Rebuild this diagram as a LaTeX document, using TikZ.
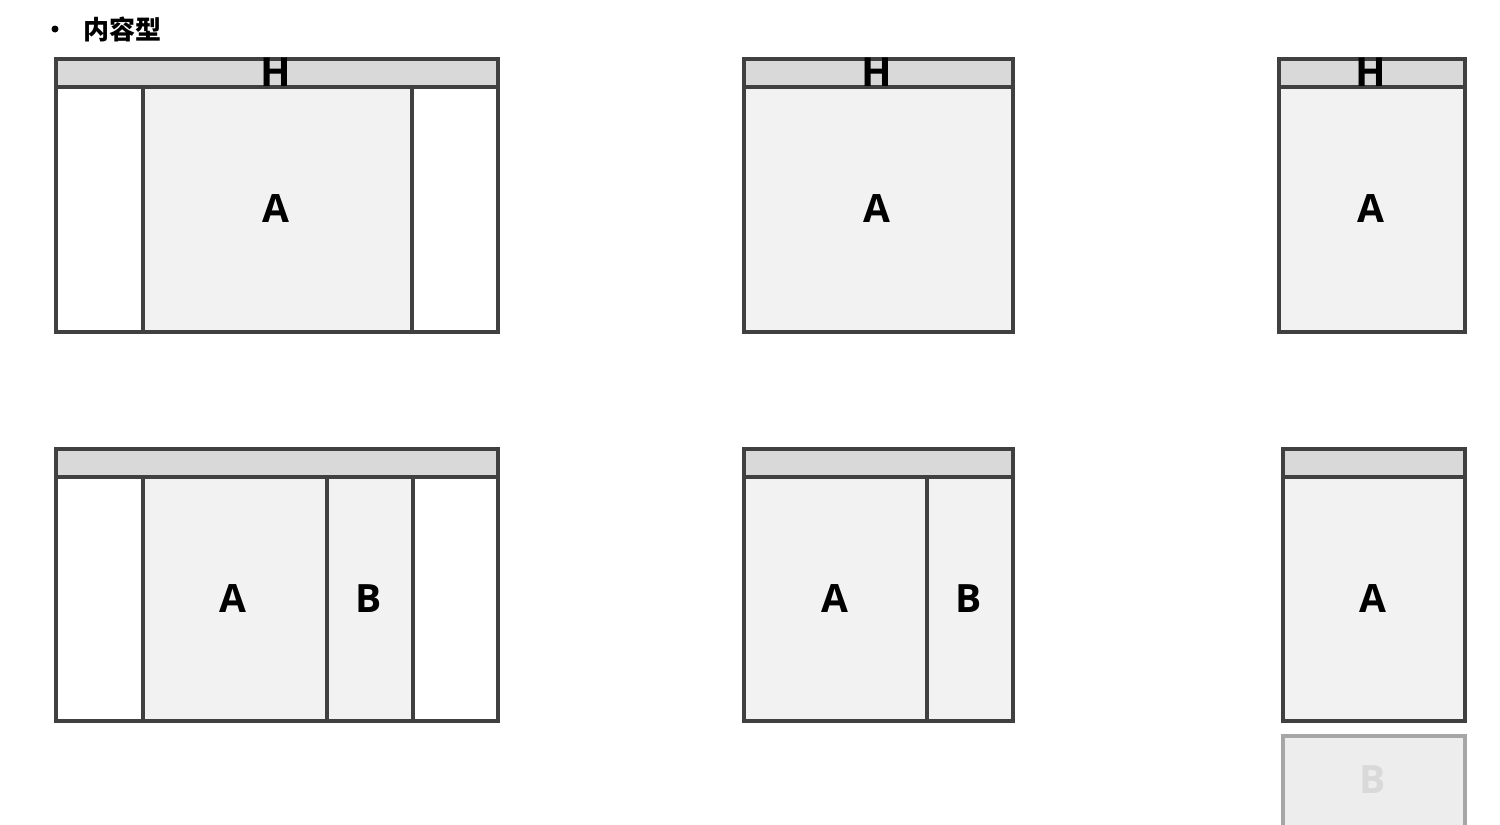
\documentclass[tikz,border=0pt]{standalone}
\usepackage{fontspec}
\newfontfamily\cjk{Noto Sans CJK SC}
\newfontfamily\lat{Open Sans}
\definecolor{frame}{HTML}{404040}
\definecolor{hdr}{HTML}{D9D9D9}
\definecolor{mid}{HTML}{F2F2F2}
\definecolor{ghostline}{HTML}{A6A6A6}
\definecolor{ghostfill}{HTML}{EDEDED}
\definecolor{ghosttext}{HTML}{D9D9D9}
\tikzset{
  frm/.style={draw=frame, line width=2pt},
  lbl/.style={font=\lat\bfseries\fontsize{19.5}{19.5}\selectfont, text=black, inner sep=0pt},
  hlbl/.style={font=\lat\bfseries\fontsize{20}{20}\selectfont, text=black, inner sep=0pt},
}
\begin{document}
\begin{tikzpicture}[x=0.5pt,y=-0.5pt]
\useasboundingbox (0,0) rectangle (1500,825);
\fill[white] (0,0) rectangle (1500,825);
% title
\node[circle, fill=black, inner sep=0pt, minimum size=3.5pt] (bullet) at (55,29) {};
\node[inner sep=0pt, anchor=west, font=\cjk\bfseries\fontsize{13}{13}\selectfont] (title) at (83,29) {内容型};

% ---------- top-left ----------
\fill[hdr] (55.5,59) rectangle (497.5,87);
\fill[mid] (142.5,87) rectangle (412,331.5);
\draw[frm] (55.5,87) -- (497.5,87) (142.5,87) -- (142.5,331.5) (412,87) -- (412,331.5);
\draw[frm] (55.5,59) rectangle (497.5,331.5);
\node[hlbl] (h1) at (276,72) {H};
\node[lbl] (a1) at (276,209) {A};

% ---------- top-middle ----------
\fill[hdr] (744,59) rectangle (1013,87);
\fill[mid] (744,87) rectangle (1013,331.5);
\draw[frm] (744,87) -- (1013,87);
\draw[frm] (744,59) rectangle (1013,331.5);
\node[hlbl] (h2) at (877,72) {H};
\node[lbl] (a2) at (877,209) {A};

% ---------- top-right ----------
\fill[hdr] (1279,59) rectangle (1465,87);
\fill[mid] (1279,87) rectangle (1465,331.5);
\draw[frm] (1279,87) -- (1465,87);
\draw[frm] (1279,59) rectangle (1465,331.5);
\node[hlbl] (h3) at (1371,72) {H};
\node[lbl] (a3) at (1371,209) {A};

% ---------- bottom-left ----------
\fill[hdr] (55.5,449) rectangle (497.5,477);
\fill[mid] (142.5,477) rectangle (413,720.5);
\draw[frm] (55.5,477) -- (497.5,477) (142.5,477) -- (142.5,720.5) (327,477) -- (327,720.5) (413,477) -- (413,720.5);
\draw[frm] (55.5,449) rectangle (497.5,720.5);
\node[lbl] (a4) at (233,599) {A};
\node[lbl] (b4) at (369,599) {B};

% ---------- bottom-middle ----------
\fill[hdr] (744,449) rectangle (1013,477);
\fill[mid] (744,477) rectangle (1013,720.5);
\draw[frm] (744,477) -- (1013,477) (927,477) -- (927,720.5);
\draw[frm] (744,449) rectangle (1013,720.5);
\node[lbl] (a5) at (835,599) {A};
\node[lbl] (b5) at (969,599) {B};

% ---------- bottom-right ----------
\fill[hdr] (1283,449) rectangle (1465,477);
\fill[mid] (1283,477) rectangle (1465,720.5);
\draw[frm] (1283,477) -- (1465,477);
\draw[frm] (1283,449) rectangle (1465,720.5);
\node[lbl] (a6) at (1373,599) {A};

% ghost B
\begin{scope}
\clip (0,0) rectangle (1500,825);
\draw[draw=ghostline, fill=ghostfill, line width=2pt] (1282.5,736) rectangle (1465,840);
\end{scope}
\node[lbl, text=ghosttext] (b6) at (1373,780) {B};
\end{tikzpicture}
\end{document}
